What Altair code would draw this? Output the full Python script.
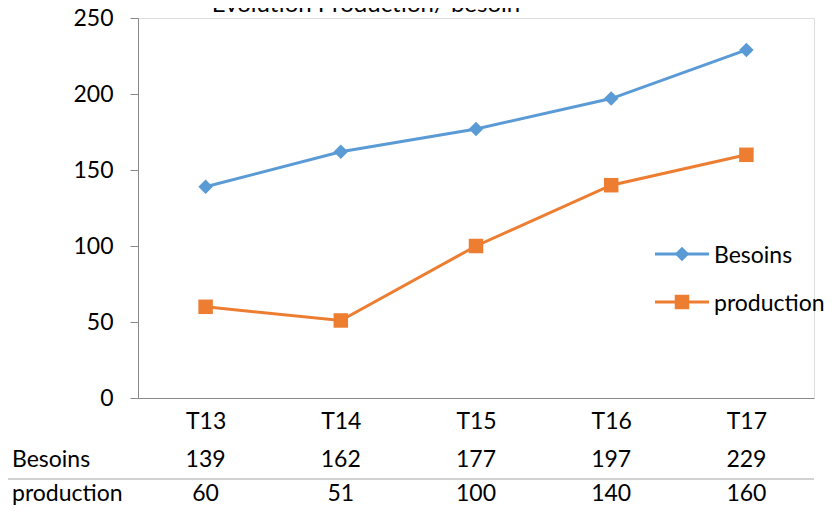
import altair as alt
import pandas as pd

periods = ["T13", "T14", "T15", "T16", "T17"]
series_names = ["Besoins", "production"]
besoins = [139, 162, 177, 197, 229]
production = [60, 51, 100, 140, 160]
y_ticks = [0, 50, 100, 150, 200, 250]
title_text = "Evolution Production/ besoin"

colors = ["#5B9BD5", "#ED7D31"]
shapes = ["diamond", "square"]
FONT = "Lato"
FS = 23
GRAY = "#898989"

rows = []
for p, b, q in zip(periods, besoins, production):
    rows.append({"period": p, "series": "Besoins", "value": b})
    rows.append({"period": p, "series": "production", "value": q})
df = pd.DataFrame(rows)

x_enc = alt.X("period:N", sort=periods,
              axis=alt.Axis(title=None, labelFont=FONT, labelFontSize=FS, labelColor="#000000",
                            labelAngle=0, ticks=False, tickSize=0, labelPadding=30,
                            labelBaseline="alphabetic", domainColor=GRAY, grid=False))
y_enc = alt.Y("value:Q", scale=alt.Scale(domain=[0, 250], nice=False),
              axis=alt.Axis(title=None, values=y_ticks, labelFont=FONT, labelFontSize=FS,
                            labelColor="#000000", labelPadding=17, tickSize=8, tickColor=GRAY,
                            domainColor=GRAY, grid=False))
color_enc = alt.Color("series:N", scale=alt.Scale(domain=series_names, range=colors), legend=None)
shape_enc = alt.Shape("series:N", scale=alt.Scale(domain=series_names, range=shapes), legend=None)

base = alt.Chart(df)

lines = base.mark_line(strokeWidth=3).encode(x=x_enc, y=y_enc, color=color_enc)
points = base.mark_point(filled=True, size=210, opacity=1).encode(
    x=x_enc, y=y_enc, color=color_enc, shape=shape_enc)

# data table under the chart
row_y = {"Besoins": 449, "production": 483}
table_layers = []
for s in series_names:
    vals = base.transform_filter(alt.datum.series == s).mark_text(
        font=FONT, fontSize=FS, align="center", baseline="alphabetic", color="#000000"
    ).encode(x=alt.X("period:N", sort=periods), y=alt.value(row_y[s]), text="value:Q")
    lab = alt.Chart(pd.DataFrame({"series": [s]})).mark_text(
        font=FONT, fontSize=FS, align="left", baseline="alphabetic", color="#000000"
    ).encode(x=alt.value(-126), y=alt.value(row_y[s]), text="series:N")
    table_layers += [vals, lab]

sep = alt.Chart(pd.DataFrame({"k": [0]})).mark_rule(color="#A6A6A6", strokeWidth=1).encode(
    x=alt.value(-138), x2=alt.value(676), y=alt.value(461))

# legend
leg_y = {"Besoins": 236, "production": 284}
legend_layers = []
for s in series_names:
    ld = alt.Chart(pd.DataFrame({"series": [s]}))
    legend_layers.append(ld.mark_rule(strokeWidth=3).encode(
        x=alt.value(517), x2=alt.value(571), y=alt.value(leg_y[s]), color=color_enc))
    legend_layers.append(ld.mark_point(filled=True, size=210, opacity=1).encode(
        x=alt.value(544), y=alt.value(leg_y[s]), color=color_enc, shape=shape_enc))
    legend_layers.append(ld.mark_text(font=FONT, fontSize=FS, align="left", baseline="alphabetic",
                                      color="#000000").encode(
        x=alt.value(576), y=alt.value(leg_y[s] + 9), text="series:N"))

title = alt.Chart(pd.DataFrame({"t": [title_text]})).mark_text(
    font=FONT, fontSize=24, align="center", baseline="alphabetic", color="#000000"
).encode(x=alt.value(228), y=alt.value(-6), text="t:N")

chart = alt.layer(lines, points, *table_layers, sep, *legend_layers, title).properties(
    width=676, height=380,
    autosize=alt.AutoSizeParams(type="none"),
    padding={"left": 130, "top": 10, "right": 14, "bottom": 108},
).configure_view(stroke=GRAY, strokeWidth=1).configure(background="white")

chart.save("out.html", embed_options={"renderer": "svg", "actions": False})
